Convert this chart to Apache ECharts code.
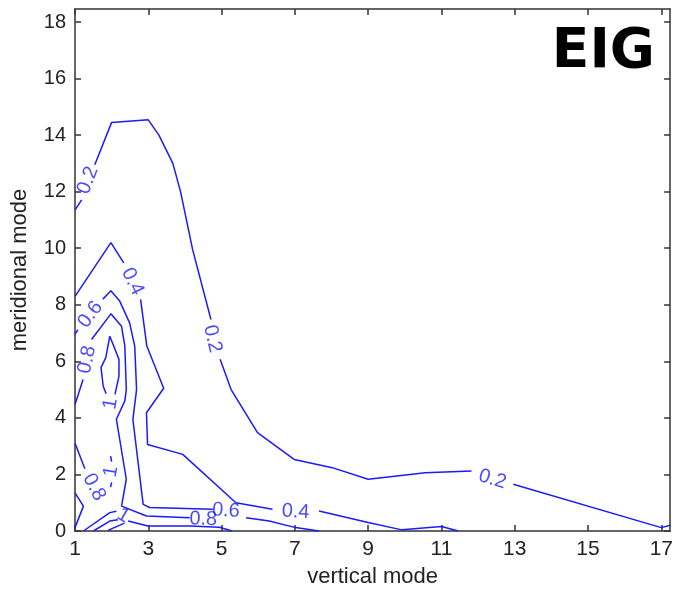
<!DOCTYPE html>
<html>
<head>
<meta charset="utf-8">
<script src="https://cdn.jsdelivr.net/npm/echarts@6/dist/echarts.min.js"></script>
<style>html,body{margin:0;padding:0;background:#fff}#c{width:676px;height:593px}</style>
</head>
<body>
<div id="c"></div>
<script>
// axis ticks
const xTicks = [1, 3, 5, 7, 9, 11, 13, 15, 17];
const yTicks = [0, 2, 4, 6, 8, 10, 12, 14, 16, 18];

// contour lines (null = gap for inline label)
const c02 = [[1,11.35],[1.18,11.71],null,[1.54,12.95],[2,14.45],[3,14.54],[3.29,14.0],[3.67,13.0],[3.88,12.0],[4.21,9.95],[4.71,7.48],null,[4.96,6.07],[5.26,5.0],[5.98,3.48],[6.98,2.53],[8.02,2.24],[9.0,1.83],[10.56,2.06],[11.82,2.12],null,[12.96,1.65],[17.0,0.12],[17.25,0.2]];
const c04 = [[1,8.3],[1.98,10.2],[2.33,9.48],null,[2.79,8.19],[2.96,6.54],[3.42,5.05],[2.95,4.18],[2.98,3.06],[3.94,2.71],[5.39,1.0],[6.39,0.77],null,[7.66,0.71],[9.0,0.3],[9.92,0.04],[11.0,0.16],[11.46,0]];
const c06 = [[1,6.95],[1.08,7.12],null,[1.76,8.2],[1.98,8.5],[2.22,8.13],[2.49,7.36],[2.63,6.54],[2.68,5.0],[2.58,3.95],[2.86,0.94],[3.04,0.83],[4.76,0.77],null,[5.67,0.47],[6.3,0.35],[7.02,0.12],[7.66,0]];
const c08a = [[1,4.47],[1.22,5.36],null,[1.45,6.77],[1.98,7.68],[2.27,7.24],[2.36,6.54],[2.4,5.0],[2.36,4.6],[2.13,3.95],[2.4,1.83],[2.27,0.88],[2.95,0.53],[4.13,0.47]];
const c08b = [[1,3.1],[1.27,2.2]];
const c08c = [[1,1.35],[1.23,0.88],[1,0.12]];
const c10a = [[1.95,6.89],[2.2,6.07],[2.2,5.48],[2.09,4.83],null,[1.85,4.85],[1.77,5.12],[1.71,5.78],[1.84,6.13],[1.95,6.89]];
const c10b = [[1.97,2.65],[2.0,2.45],null,[2.0,1.72],[1.97,1.55]];
const c10c = [[1.23,0],[1.95,0.65],[2.13,0.7],null,[2.45,0.35],[2.99,0.18],[4.13,0.18],[4.94,0.13],[5.29,0]];
const c12 = [[1.5,0],[1.95,0.35],[2.17,0.4]];
const c14 = [[1.9,0.02],[2.35,0.28]];

// inline contour labels: [x, y, text, angle]
const labels = [
  [1.35,12.4,'0.2',69],[4.75,6.8,'0.2',-77],[12.39,1.83,'0.2',-17],
  [2.57,8.82,'0.4',-64],[7.02,0.68,'0.4',-3],
  [1.42,7.65,'0.6',53],[5.12,0.72,'0.6',-4],
  [1.33,6.06,'0.8',78],[4.5,0.42,'0.8',-2],[1.52,1.55,'0.8',-62],
  [1.97,4.5,'1',80],[1.98,2.1,'1',80],[2.32,0.55,'1',-30]
];

const chart = echarts.init(document.getElementById('c'), null, {renderer:'canvas'});
const FONT = 'Liberation Sans, Arial, sans-serif';
const axisCommon = {
  type:'value', axisLine:{show:true,onZero:false,lineStyle:{color:'#333',width:1.5}},
  axisTick:{show:true,inside:true,length:6,lineStyle:{color:'#333',width:1.5}},
  splitLine:{show:false}
};
const lineStyle = {color:'#1a1aff', width:1.5};
function contour(d){ return {type:'line', data:d, showSymbol:false, symbol:'none', connectNulls:false, lineStyle:lineStyle, silent:true, animation:false, z:3}; }

chart.setOption({
  animation:false,
  backgroundColor:'#fff',
  grid:{left:75, right:3.3, top:9, bottom:61.3, containLabel:false},
  xAxis:[
    Object.assign({}, axisCommon, {position:'bottom', min:1, max:17.24,
      axisTick:Object.assign({}, axisCommon.axisTick, {customValues:xTicks}),
      axisLabel:{customValues:xTicks, color:'#222', fontSize:21, fontFamily:FONT, margin:8},
      name:'vertical mode', nameLocation:'middle', nameGap:35,
      nameTextStyle:{color:'#222', fontSize:22, fontFamily:FONT}}),
    Object.assign({}, axisCommon, {position:'top', min:1, max:17.24,
      axisTick:Object.assign({}, axisCommon.axisTick, {customValues:xTicks}),
      axisLabel:{show:false}})
  ],
  yAxis:[
    Object.assign({}, axisCommon, {position:'left', min:0, max:18.46,
      axisTick:Object.assign({}, axisCommon.axisTick, {customValues:yTicks}),
      axisLabel:{customValues:yTicks, color:'#222', fontSize:20, fontFamily:FONT, margin:9},
      name:'meridional mode', nameLocation:'middle', nameGap:44,
      nameTextStyle:{color:'#222', fontSize:22, fontFamily:FONT}}),
    Object.assign({}, axisCommon, {position:'right', min:0, max:18.46,
      axisTick:Object.assign({}, axisCommon.axisTick, {customValues:yTicks}),
      axisLabel:{show:false}})
  ],
  graphic:[{type:'text', right:21, top:25, style:{text:'EIG', font:'bold 55px "DejaVu Sans", Verdana, sans-serif', fill:'#000'}}],
  series:[
    contour(c02), contour(c04), contour(c06), contour(c08a), contour(c08b), contour(c08c),
    contour(c10a), contour(c10b), contour(c10c), contour(c12), contour(c14),
    {type:'scatter', symbolSize:0, silent:true, z:4,
     data: labels.map(l => ({value:[l[0], l[1]], label:{show:true, position:'inside', formatter:l[2], rotate:l[3],
        color:'#1a1aff', fontSize:20, fontFamily:FONT}}))}
  ]
});
</script>
</body>
</html>
